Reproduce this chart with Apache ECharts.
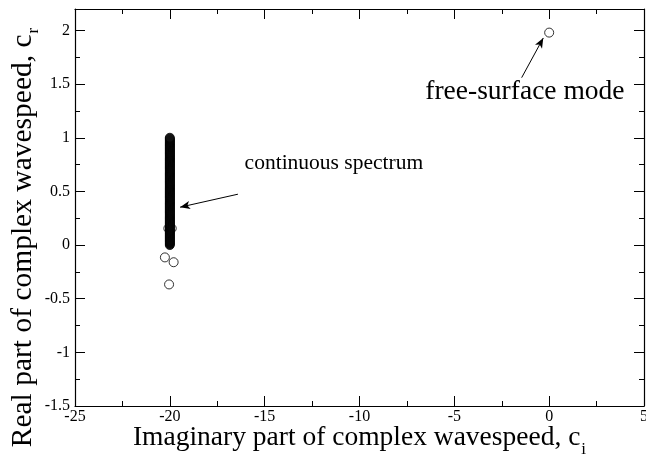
<!DOCTYPE html>
<html>
<head>
<meta charset="utf-8">
<style>
  html, body { margin: 0; padding: 0; background: #fff; }
  #chart { width: 646px; height: 460px; }
</style>
<script src="https://cdn.jsdelivr.net/npm/echarts@6/dist/echarts.min.js"></script>
</head>
<body>
<div id="chart"></div>
<script>
// Eigenvalue spectrum: c = c_r + i c_i, plotted as (c_i, c_r)

// Continuous spectrum: a dense column of eigenvalues at c_i = -20
const contCi = -20;
const contCr = [
  0.00, 0.01, 0.02, 0.03, 0.04, 0.05, 0.06, 0.07, 0.08, 0.09,
  0.10, 0.11, 0.12, 0.13, 0.14, 0.15, 0.16, 0.17, 0.18, 0.19,
  0.20, 0.21, 0.22, 0.23, 0.24, 0.25, 0.26, 0.27, 0.28, 0.29,
  0.30, 0.31, 0.32, 0.33, 0.34, 0.35, 0.36, 0.37, 0.38, 0.39,
  0.40, 0.41, 0.42, 0.43, 0.44, 0.45, 0.46, 0.47, 0.48, 0.49,
  0.50, 0.51, 0.52, 0.53, 0.54, 0.55, 0.56, 0.57, 0.58, 0.59,
  0.60, 0.61, 0.62, 0.63, 0.64, 0.65, 0.66, 0.67, 0.68, 0.69,
  0.70, 0.71, 0.72, 0.73, 0.74, 0.75, 0.76, 0.77, 0.78, 0.79,
  0.80, 0.81, 0.82, 0.83, 0.84, 0.85, 0.86, 0.87, 0.88, 0.89,
  0.90, 0.91, 0.92, 0.93, 0.94, 0.95, 0.96, 0.97, 0.98, 0.99,
  1.00
];

// Isolated eigenvalues near the continuum
const otherCi = [-20.08, -19.90, -20.26, -19.80, -20.04];
const otherCr = [0.155, 0.155, -0.115, -0.160, -0.367];

// Free-surface mode
const freeCi = [0.0];
const freeCr = [1.98];

// Axis ranges and ticks
const xMin = -25, xMax = 5, xStep = 5;
const yMin = -1.5, yMax = 2.2, yStep = 0.5;

// Annotations (data coordinates)
const noteText = ['continuous spectrum', 'free-surface mode'];
const noteSize = [21.5, 27.5];
const notePos = [[-11.35, 0.76], [-1.28, 1.43]];
const arrowFrom = [[-16.41, 0.474], [-1.45, 1.56]];
const arrowTo = [[-19.46, 0.353], [-0.31, 1.93]];

const serif = '"Liberation Serif", "DejaVu Serif", serif';

const contData = contCr.map(v => [contCi, v]);
const otherData = otherCi.map((v, i) => [v, otherCr[i]]);
const freeData = freeCi.map((v, i) => [v, freeCr[i]]);

function yLabel(v) {
  const k = Math.round(v / yStep);
  if (Math.abs(k * yStep - v) > 1e-9) return '';
  return String(+v.toFixed(1));
}

const tickCommon = { inside: true, length: 10, lineStyle: { color: '#000', width: 1 } };
const minorCommon = { show: true, splitNumber: 2, length: 5, lineStyle: { color: '#000', width: 1 } };
const lineCommon = { show: true, onZero: false, lineStyle: { color: '#000', width: 1.2 } };

// Axis title with a lowered subscript: the subscript token is given a taller
// line box so its glyphs sit below the main text's baseline.
function titleRich(size) {
  return {
    m: { fontFamily: serif, fontSize: size, color: '#000', lineHeight: size, verticalAlign: 'top' },
    s: { fontFamily: serif, fontSize: 17, color: '#000', lineHeight: 52, verticalAlign: 'middle', padding: [0, 0, 0, 1] }
  };
}

const chart = echarts.init(document.getElementById('chart'), null, { renderer: 'canvas' });

chart.setOption({
  animation: false,
  backgroundColor: '#fff',
  grid: { left: 75, right: 2, top: 9, bottom: 54, containLabel: false, outerBoundsMode: 'none' },
  xAxis: [
    {
      type: 'value', min: xMin, max: xMax, interval: xStep, position: 'bottom',
      axisLine: lineCommon, axisTick: tickCommon, minorTick: minorCommon,
      splitLine: { show: false },
      axisLabel: { color: '#000', fontFamily: serif, fontSize: 16, margin: 3 },
      name: '{m|Imaginary part of complex wavespeed, c}{s|i}',
      nameLocation: 'middle', nameGap: 18, nameMoveOverlap: false,
      nameTextStyle: { rich: titleRich(27.5) }
    },
    {
      type: 'value', min: xMin, max: xMax, interval: xStep, position: 'top',
      axisLine: lineCommon, axisTick: tickCommon, minorTick: minorCommon,
      splitLine: { show: false }, axisLabel: { show: false }
    }
  ],
  yAxis: [
    {
      type: 'value', min: yMin, max: yMax, interval: yStep, position: 'left',
      axisLine: lineCommon, axisTick: tickCommon, minorTick: minorCommon,
      splitLine: { show: false },
      axisLabel: { color: '#000', fontFamily: serif, fontSize: 16, margin: 5, formatter: yLabel },
      name: '{m|Real part of complex wavespeed, c}{s|r}',
      nameLocation: 'middle', nameGap: 15, nameRotate: 90, nameMoveOverlap: false,
      nameTextStyle: { rich: titleRich(29.5), padding: [0, 60, 0, 0] }
    },
    {
      type: 'value', min: yMin, max: yMax, interval: yStep, position: 'right',
      axisLine: lineCommon, axisTick: tickCommon, minorTick: minorCommon,
      splitLine: { show: false }, axisLabel: { show: false }
    }
  ],
  series: [
    {
      name: 'discrete', type: 'scatter', data: otherData,
      symbol: 'circle', symbolSize: 9,
      itemStyle: { color: 'rgba(255,255,255,0)', borderColor: '#000', borderWidth: 1 }
    },
    {
      name: 'continuous spectrum', type: 'scatter', data: contData,
      symbol: 'circle', symbolSize: 9,
      itemStyle: { color: '#111', borderColor: '#000', borderWidth: 1 },
      markLine: {
        silent: true, symbol: ['none', 'arrow'], symbolSize: [6, 10],
        lineStyle: { color: '#000', width: 1, type: 'solid' },
        label: { show: false },
        data: arrowFrom.map((p, i) => [{ coord: p }, { coord: arrowTo[i] }])
      },
      markPoint: {
        silent: true, symbol: 'circle', symbolSize: 0,
        data: noteText.map((t, i) => ({
          name: t, coord: notePos[i],
          label: { show: true, color: '#000', fontFamily: serif, fontSize: noteSize[i], formatter: t, position: 'inside' }
        }))
      }
    },
    {
      name: 'free-surface mode', type: 'scatter', data: freeData,
      symbol: 'circle', symbolSize: 9,
      itemStyle: { color: '#fff', borderColor: '#000', borderWidth: 1 }
    }
  ]
});
</script>
</body>
</html>
